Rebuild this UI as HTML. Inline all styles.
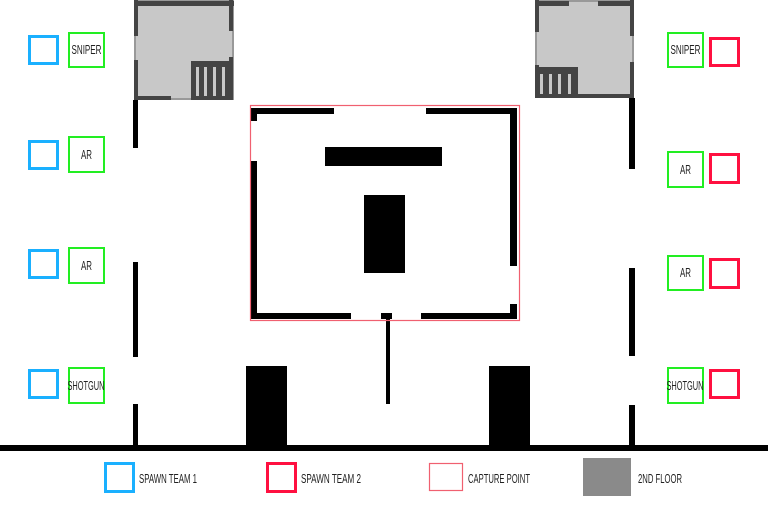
<!DOCTYPE html>
<html><head><meta charset="utf-8"><style>
html,body{margin:0;padding:0;background:#fff;width:768px;height:505px;overflow:hidden}
text{font-family:"Liberation Sans Narrow","Liberation Sans",sans-serif;fill:#222}
</style></head><body>
<svg width="768" height="505" viewBox="0 0 768 505" xmlns="http://www.w3.org/2000/svg">
<rect width="768" height="505" fill="#fff"/>
<rect x="135" y="1" width="98" height="98" fill="#c8c8c8" stroke="#999" stroke-width="2"/>
<g fill="#444">
<rect x="134" y="1" width="100" height="5"/>
<rect x="134" y="0" width="4" height="36"/>
<rect x="134" y="60" width="4" height="41"/>
<rect x="229" y="0" width="4" height="31"/>
<rect x="229" y="57" width="4" height="43"/>
<rect x="134" y="96" width="37" height="4"/>
<rect x="191" y="61" width="40" height="39"/>
</g>
<g fill="#c8c8c8"><rect x="196" y="67" width="3" height="29"/><rect x="204" y="67" width="3" height="29"/><rect x="213" y="67" width="3" height="29"/><rect x="222" y="67" width="3" height="29"/></g>
<rect x="536" y="1" width="97" height="96" fill="#c8c8c8" stroke="#999" stroke-width="2"/>
<g fill="#444">
<rect x="537" y="1" width="32" height="5"/>
<rect x="598" y="1" width="35" height="5"/>
<rect x="535" y="0" width="4" height="32"/>
<rect x="535" y="65" width="4" height="33"/>
<rect x="630" y="0" width="4" height="36"/>
<rect x="630" y="62" width="4" height="36"/>
<rect x="535" y="94" width="99" height="4"/>
<rect x="537" y="67" width="41" height="29"/>
</g>
<g fill="#c8c8c8"><rect x="540" y="74" width="3" height="20"/><rect x="549" y="74" width="3" height="20"/><rect x="558" y="74" width="3" height="20"/><rect x="568" y="74" width="3" height="20"/></g>
<g fill="#000">
<rect x="133" y="100" width="5" height="48"/>
<rect x="133" y="262" width="5" height="95"/>
<rect x="133" y="404" width="5" height="44"/>
<rect x="629" y="98" width="6" height="71"/>
<rect x="629" y="268" width="6" height="88"/>
<rect x="629" y="405" width="6" height="43"/>
<rect x="0" y="445" width="768" height="6"/>
<rect x="246" y="366" width="41" height="80"/>
<rect x="489" y="366" width="41" height="80"/>
<rect x="251" y="108" width="83" height="6"/>
<rect x="251" y="108" width="6" height="13"/>
<rect x="251" y="161" width="6" height="158"/>
<rect x="251" y="313" width="100" height="6"/>
<rect x="421" y="313" width="96" height="6"/>
<rect x="510" y="304" width="7" height="15"/>
<rect x="426" y="108" width="91" height="6"/>
<rect x="510" y="108" width="7" height="158"/>
<rect x="381" y="313" width="11" height="6"/>
<rect x="386" y="319" width="4" height="85"/>
<rect x="325" y="147" width="117" height="19"/>
<rect x="364" y="195" width="41" height="78"/>
</g>
<rect x="250.5" y="105.5" width="269" height="215" fill="none" stroke="#f06070" stroke-width="1.2"/>
<g fill="none" stroke-width="3">
<rect x="29.5" y="36.5" width="28" height="27" stroke="#1ab0ff"/>
<rect x="29.5" y="141.5" width="28" height="27" stroke="#1ab0ff"/>
<rect x="29.5" y="250.5" width="28" height="27" stroke="#1ab0ff"/>
<rect x="29.5" y="370.5" width="28" height="27" stroke="#1ab0ff"/>
<rect x="710.5" y="38.5" width="28" height="27" stroke="#ff1040"/>
<rect x="710.5" y="154.5" width="28" height="28" stroke="#ff1040"/>
<rect x="710.5" y="259.5" width="28" height="28" stroke="#ff1040"/>
<rect x="710.5" y="370.5" width="28" height="27" stroke="#ff1040"/>
<rect x="105.5" y="463.5" width="28" height="28" stroke="#1ab0ff"/>
<rect x="267.5" y="463.5" width="28" height="28" stroke="#ff1040"/>
</g>
<g fill="none" stroke="#22ee22" stroke-width="2">
<rect x="69" y="33" width="35" height="34"/>
<rect x="69" y="137" width="35" height="35"/>
<rect x="69" y="248" width="35" height="35"/>
<rect x="69" y="368" width="35" height="35"/>
<rect x="668" y="33" width="35" height="34"/>
<rect x="668" y="152" width="35" height="35"/>
<rect x="668" y="256" width="35" height="34"/>
<rect x="668" y="368" width="35" height="35"/>
</g>
<rect x="429.5" y="463.5" width="33" height="27" fill="none" stroke="#f06070" stroke-width="1.2"/>
<rect x="583" y="458" width="48" height="38" fill="#8a8a8a"/>
<g font-size="13" text-anchor="middle">
<text x="86.5" y="54" textLength="30" lengthAdjust="spacingAndGlyphs">SNIPER</text>
<text x="86.5" y="159" textLength="11" lengthAdjust="spacingAndGlyphs">AR</text>
<text x="86.5" y="270" textLength="11" lengthAdjust="spacingAndGlyphs">AR</text>
<text x="86" y="390" textLength="37" lengthAdjust="spacingAndGlyphs">SHOTGUN</text>
<text x="685.5" y="54" textLength="30" lengthAdjust="spacingAndGlyphs">SNIPER</text>
<text x="685.5" y="174" textLength="11" lengthAdjust="spacingAndGlyphs">AR</text>
<text x="685.5" y="277" textLength="11" lengthAdjust="spacingAndGlyphs">AR</text>
<text x="685" y="390" textLength="37" lengthAdjust="spacingAndGlyphs">SHOTGUN</text>
</g>
<g font-size="13">
<text x="139" y="483" textLength="58" lengthAdjust="spacingAndGlyphs">SPAWN TEAM 1</text>
<text x="301" y="483" textLength="60" lengthAdjust="spacingAndGlyphs">SPAWN TEAM 2</text>
<text x="468" y="483" textLength="62" lengthAdjust="spacingAndGlyphs">CAPTURE POINT</text>
<text x="638" y="483" textLength="44" lengthAdjust="spacingAndGlyphs">2ND FLOOR</text>
</g>
</svg>
</body></html>
